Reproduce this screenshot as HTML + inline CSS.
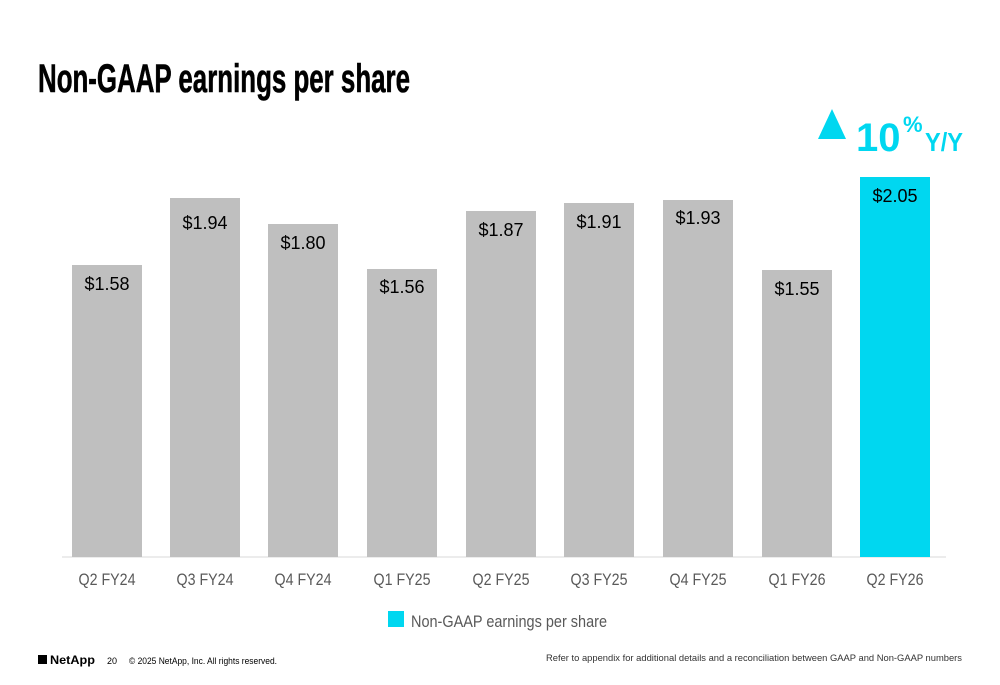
<!DOCTYPE html>
<html><head><meta charset="utf-8"><style>
html,body{margin:0;padding:0;background:#fff;}
body{width:1000px;height:685px;position:relative;overflow:hidden;font-family:"Liberation Sans",sans-serif;}
</style></head><body>
<svg width="1000" height="685" xmlns="http://www.w3.org/2000/svg" style="position:absolute;left:0;top:0">
<text x="38" y="92" font-family="Liberation Sans Narrow, Liberation Sans, sans-serif" font-weight="bold" font-size="40" textLength="372" lengthAdjust="spacingAndGlyphs" fill="#000" stroke="#000" stroke-width="0.6">Non-GAAP earnings per share</text>
<polygon points="818,139 832,109 846,139" fill="#00D7F0"/>
<text x="856" y="151" font-weight="bold" font-size="40" fill="#00D7F0">10</text>
<text x="903" y="132" font-weight="bold" font-size="22" fill="#00D7F0">%</text>
<text x="925" y="151" font-weight="bold" font-size="26" fill="#00D7F0" textLength="38" lengthAdjust="spacingAndGlyphs">Y/Y</text>
<line x1="62" y1="557" x2="946" y2="557" stroke="#d9d9d9" stroke-width="1"/>
<g font-size="18" fill="#000" text-anchor="middle">
<rect x="72" y="265" width="70" height="292" fill="#BFBFBF"/><text x="107" y="290">$1.58</text>
<rect x="170" y="198" width="70" height="359" fill="#BFBFBF"/><text x="205" y="229">$1.94</text>
<rect x="268" y="224" width="70" height="333" fill="#BFBFBF"/><text x="303" y="249">$1.80</text>
<rect x="367" y="269" width="70" height="288" fill="#BFBFBF"/><text x="402" y="293">$1.56</text>
<rect x="466" y="211" width="70" height="346" fill="#BFBFBF"/><text x="501" y="236">$1.87</text>
<rect x="564" y="203" width="70" height="354" fill="#BFBFBF"/><text x="599" y="228">$1.91</text>
<rect x="663" y="200" width="70" height="357" fill="#BFBFBF"/><text x="698" y="224">$1.93</text>
<rect x="762" y="270" width="70" height="287" fill="#BFBFBF"/><text x="797" y="295">$1.55</text>
<rect x="860" y="177" width="70" height="380" fill="#00D7F0"/><text x="895" y="202">$2.05</text>
</g>
<g font-size="17" fill="#595959" text-anchor="middle">
<text x="107" y="585" textLength="57" lengthAdjust="spacingAndGlyphs">Q2 FY24</text><text x="205" y="585" textLength="57" lengthAdjust="spacingAndGlyphs">Q3 FY24</text><text x="303" y="585" textLength="57" lengthAdjust="spacingAndGlyphs">Q4 FY24</text>
<text x="402" y="585" textLength="57" lengthAdjust="spacingAndGlyphs">Q1 FY25</text><text x="501" y="585" textLength="57" lengthAdjust="spacingAndGlyphs">Q2 FY25</text><text x="599" y="585" textLength="57" lengthAdjust="spacingAndGlyphs">Q3 FY25</text>
<text x="698" y="585" textLength="57" lengthAdjust="spacingAndGlyphs">Q4 FY25</text><text x="797" y="585" textLength="57" lengthAdjust="spacingAndGlyphs">Q1 FY26</text><text x="895" y="585" textLength="57" lengthAdjust="spacingAndGlyphs">Q2 FY26</text>
</g>
<rect x="388" y="611" width="16" height="16" fill="#00D7F0"/>
<text x="411" y="627" font-size="17" fill="#595959" textLength="196" lengthAdjust="spacingAndGlyphs">Non-GAAP earnings per share</text>
<rect x="38" y="655" width="9" height="9" fill="#000"/>
<text x="50" y="664" font-size="12" font-weight="bold" fill="#000" textLength="45" lengthAdjust="spacingAndGlyphs">NetApp</text>
<text x="107" y="664" font-size="9" fill="#000">20</text>
<text x="129" y="664" font-size="9" fill="#000" textLength="148" lengthAdjust="spacingAndGlyphs">© 2025 NetApp, Inc. All rights reserved.</text>
<text x="546" y="661" font-size="9.5" fill="#333" textLength="416" lengthAdjust="spacingAndGlyphs">Refer to appendix for additional details and a reconciliation between GAAP and Non-GAAP numbers</text>
</svg>
</body></html>
